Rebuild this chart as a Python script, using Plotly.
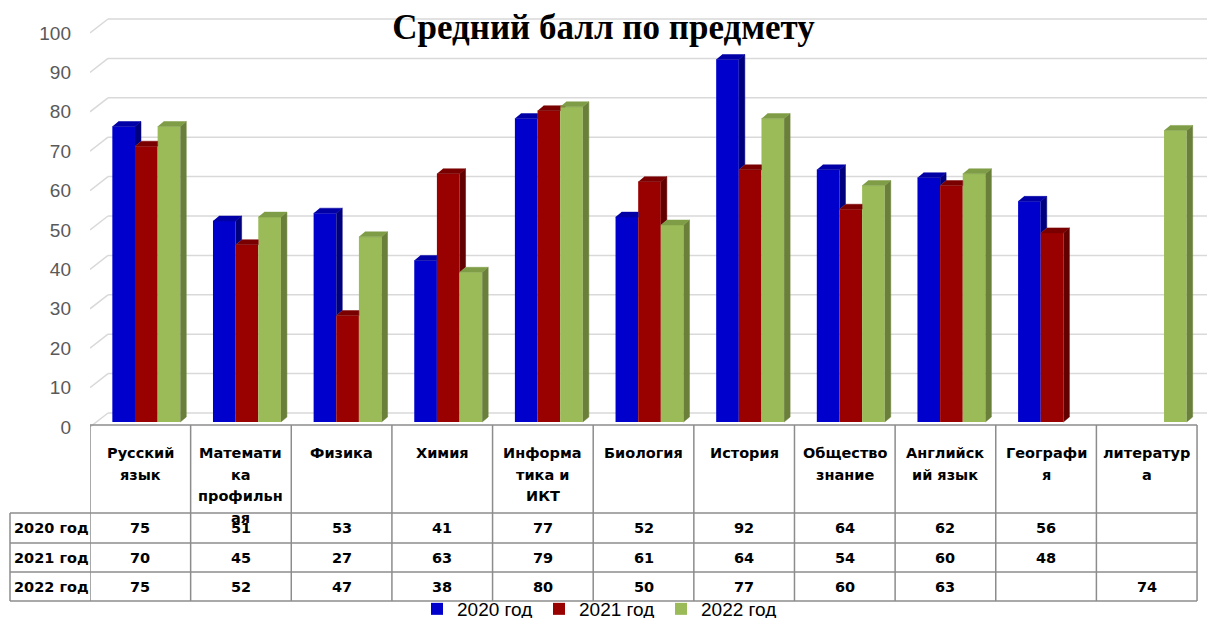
import plotly.graph_objects as go

# ---------------- data ----------------
subjects = ["Русский язык", "Математика профильная", "Физика", "Химия",
            "Информатика и ИКТ", "Биология", "История", "Обществознание",
            "Английский язык", "География", "литература"]
header_lines = [["Русский", "язык"], ["Математи", "ка", "профильн", "ая"], ["Физика"],
                ["Химия"], ["Информа", "тика и", "ИКТ"], ["Биология"], ["История"],
                ["Общество", "знание"], ["Английск", "ий язык"], ["Географи", "я"],
                ["литератур", "а"]]
years = ["2020 год", "2021 год", "2022 год"]
v2020 = [75, 51, 53, 41, 77, 52, 92, 64, 62, 56, None]
v2021 = [70, 45, 27, 63, 79, 61, 64, 54, 60, 48, None]
v2022 = [75, 52, 47, 38, 80, 50, 77, 60, 63, None, 74]
series = [v2020, v2021, v2022]
y_ticks = list(range(0, 101, 10))
title_text = "Средний балл по предмету"

# ---------------- styles / layout geometry ----------------
front_col = ["#0000CC", "#990000", "#9BBB59"]
side_col = ["#00007E", "#620000", "#6A803A"]
top_col = ["#0000A6", "#7A0000", "#7F9D46"]
grid_col = "#D9D9D9"
table_col = "#8C8C8C"

W, H = 1207, 618
ML, MR, MT, MB = 90, 0, 10, 191
plot_w = W - ML - MR
plot_h = H - MT - MB
cat_px = 100.64          # px per category
val_px = 3.94            # px per value unit
n = len(subjects)
x_range = [-0.5, -0.5 + plot_w / cat_px]
y_range = [0, plot_h / val_px]


def px2x(p):
    return p / cat_px


def px2y(p):
    return p / val_px


def paper_y(px):  # absolute page pixel -> paper y
    return (H - MB - px) / plot_h


def paper_x(px):
    return (px - ML) / plot_w


wall_dx, wall_dy = px2x(18), px2y(14)
bar_base = px2y(5)
bar_e, bar_f = px2x(6), px2y(5)
bar_w = 0.225
offsets = [-0.278, -0.053, 0.172]

fig = go.Figure()
xs = list(range(n))

# front faces
for j, vals in enumerate(series):
    fig.add_trace(go.Bar(x=xs, y=vals, base=bar_base, offset=offsets[j], width=bar_w,
                         marker=dict(color=front_col[j], line=dict(width=0)),
                         name=years[j], hoverinfo="skip"))

# side and top faces
for j, vals in enumerate(series):
    sx, sy, tx, ty = [], [], [], []
    for i, v in enumerate(vals):
        if v is None:
            continue
        xl = i + offsets[j]
        xr = xl + bar_w
        b = bar_base
        t = b + v
        nv = series[j + 1][i] if j < len(series) - 1 else None
        tn = b + nv if nv is not None else b
        lo = max(b, tn)
        if t > lo:
            sx += [xr, xr + bar_e, xr + bar_e, xr, None]
            sy += [lo, lo + bar_f, t + bar_f, t, None]
        if nv is not None and tn > t:
            if tn >= t + bar_f:
                tx += [xl, xr, xr, xl + bar_e, None]
                ty += [t, t, t + bar_f, t + bar_f, None]
            else:
                xc = xr + bar_e * (tn - t) / bar_f
                tx += [xl, xr, xr, xc, xr + bar_e, xl + bar_e, None]
                ty += [t, t, tn, tn, t + bar_f, t + bar_f, None]
        else:
            tx += [xl, xr, xr + bar_e, xl + bar_e, None]
            ty += [t, t, t + bar_f, t + bar_f, None]
    fig.add_trace(go.Scatter(x=sx, y=sy, mode="lines", fill="toself", fillcolor=side_col[j],
                             line=dict(width=0.5, color=side_col[j]), showlegend=False,
                             hoverinfo="skip"))
    fig.add_trace(go.Scatter(x=tx, y=ty, mode="lines", fill="toself", fillcolor=top_col[j],
                             line=dict(width=0.5, color=top_col[j]), showlegend=False,
                             hoverinfo="skip"))

shapes = []
# back wall grid lines + left wall diagonals
for v in y_ticks:
    shapes.append(dict(type="line", xref="x", yref="y", x0=-0.5 + wall_dx, x1=x_range[1] + 1,
                       y0=v + wall_dy, y1=v + wall_dy, layer="below",
                       line=dict(color=grid_col, width=1.5)))
    shapes.append(dict(type="line", xref="x", yref="y", x0=-0.5, x1=-0.5 + wall_dx,
                       y0=v, y1=v + wall_dy, layer="below",
                       line=dict(color=grid_col, width=1.5)))

# data table
tbl_top, hdr_bot = 425, 513
row_bounds = [513, 543, 572, 601]
lab_left = 10
tl = dict(color=table_col, width=1.5)
shapes.append(dict(type="line", xref="x", yref="paper", x0=-0.5, x1=n - 0.5,
                   y0=paper_y(tbl_top), y1=paper_y(tbl_top), line=tl))
for yb in row_bounds:
    shapes.append(dict(type="line", xref="x", yref="paper", x0=-0.5, x1=n - 0.5,
                       y0=paper_y(yb), y1=paper_y(yb), line=tl))
    shapes.append(dict(type="line", xref="paper", yref="paper", x0=paper_x(lab_left), x1=0,
                       y0=paper_y(yb), y1=paper_y(yb), line=tl))
for k in range(n + 1):
    shapes.append(dict(type="line", xref="x", yref="paper", x0=k - 0.5, x1=k - 0.5,
                       y0=paper_y(tbl_top), y1=paper_y(row_bounds[-1]), line=tl))
shapes.append(dict(type="line", xref="paper", yref="paper", x0=paper_x(lab_left),
                   x1=paper_x(lab_left), y0=paper_y(row_bounds[0]),
                   y1=paper_y(row_bounds[-1]), line=tl))

annotations = []
tfont = dict(family="DejaVu Sans", size=14.5, color="#000000", weight="bold")
for i, lines in enumerate(header_lines):
    for k, line in enumerate(lines):
        annotations.append(dict(x=i, xref="x", y=paper_y(453 + 21.5 * k), yref="paper",
                                text=line, showarrow=False, font=tfont,
                                xanchor="center", yanchor="middle"))
for r, vals in enumerate(series):
    yc = paper_y((row_bounds[r] + row_bounds[r + 1]) / 2)
    annotations.append(dict(x=paper_x(lab_left + 2), xref="paper", y=yc, yref="paper",
                            text=years[r], showarrow=False, font=tfont,
                            xanchor="left", yanchor="middle"))
    for i, v in enumerate(vals):
        if v is None:
            continue
        annotations.append(dict(x=i, xref="x", y=yc, yref="paper", text=str(v),
                                showarrow=False, font=tfont,
                                xanchor="center", yanchor="middle"))

fig.update_layout(
    width=W, height=H,
    margin=dict(l=ML, r=MR, t=MT, b=MB, pad=0, autoexpand=False),
    paper_bgcolor="white", plot_bgcolor="rgba(0,0,0,0)",
    barmode="overlay",
    title=dict(text=title_text, x=0.5, xref="container", xanchor="center",
               y=1 - 27 / H, yref="container", yanchor="middle",
               font=dict(family="Liberation Serif", size=35, color="#000000", weight="bold")),
    xaxis=dict(range=x_range, showgrid=False, zeroline=False, showline=False,
               showticklabels=False, ticks="", automargin=False),
    yaxis=dict(range=y_range, showgrid=False, zeroline=False, showline=False,
               tickmode="array", tickvals=y_ticks, ticks="", ticklabelstandoff=18,
               automargin=False,
               tickfont=dict(family="Liberation Sans", size=19, color="#595959")),
    legend=dict(orientation="h", x=paper_x(417), xanchor="left", y=paper_y(609),
                yanchor="middle", entrywidth=77, entrywidthmode="pixels",
                font=dict(family="Liberation Sans", size=19, color="#000000"),
                bgcolor="rgba(0,0,0,0)", traceorder="normal"),
    shapes=shapes, annotations=annotations,
)

fig.write_html("out.html", config={"displayModeBar": False},
               post_script="document.body.style.margin='0';document.body.style.overflow='hidden';")
